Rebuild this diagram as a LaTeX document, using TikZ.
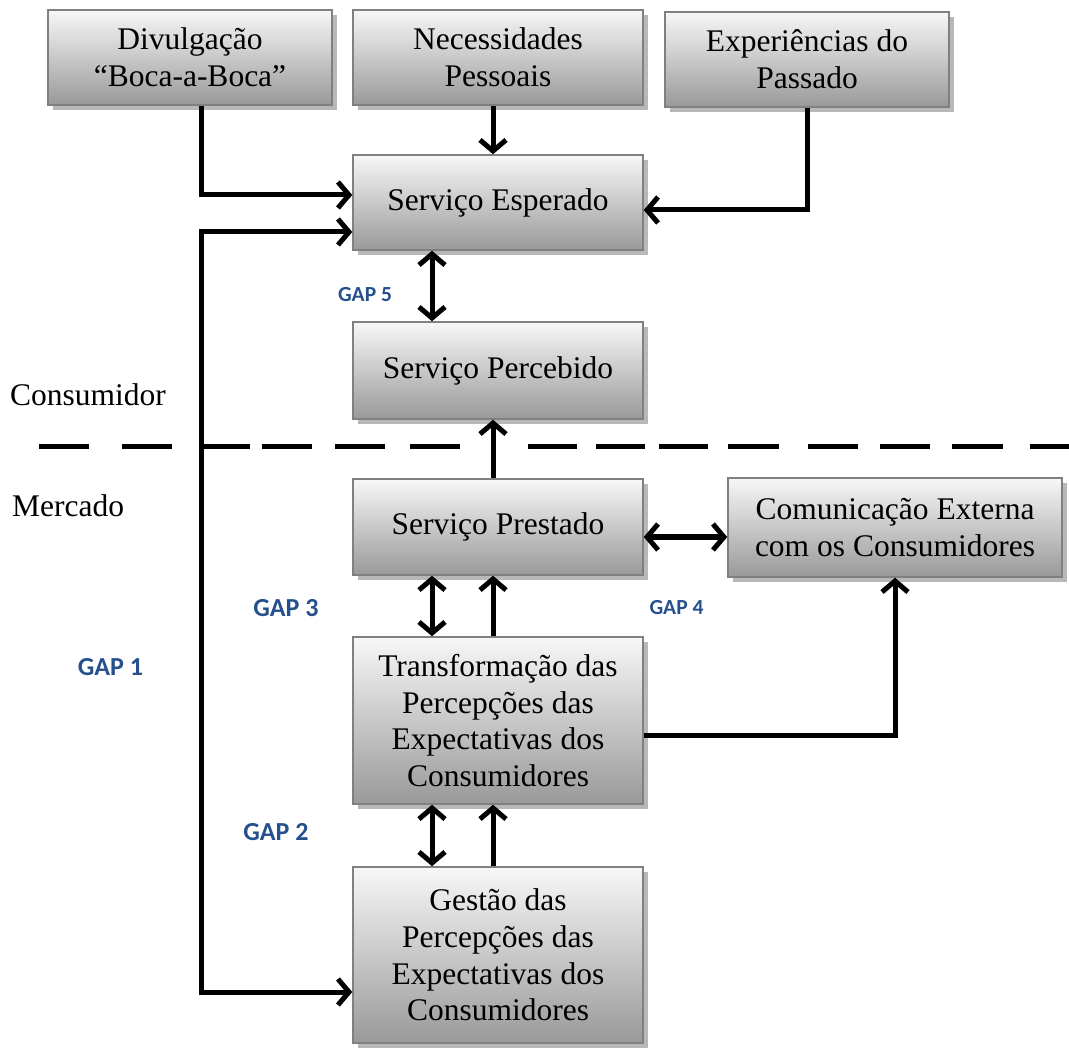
\documentclass[tikz,border=0pt]{standalone}
\usepackage{fontspec}
\setmainfont{Liberation Serif}
\newfontfamily\gapfont{Carlito}
\usetikzlibrary{arrows.meta,shadows}
\definecolor{gapblue}{RGB}{38,80,140}
\begin{document}
\begin{tikzpicture}[x=1pt,y=-1pt,
  box/.style 2 args={draw=black!50, line width=1.5pt,
    top color=white!97!black, bottom color=black!40,
    drop shadow={shadow xshift=5pt, shadow yshift=-5pt, fill=black!28, opacity=1},
    align=center, inner sep=0pt, font=\fontsize{31.5}{36.7}\selectfont,
    minimum width=#1pt, minimum height=#2pt},
  arr/.style={line width=5pt, -{Straight Barb[length=11pt,width=26pt]}},
  darr/.style={line width=5pt, {Straight Barb[length=11pt,width=26pt]}-{Straight Barb[length=11pt,width=26pt]}},
  dashseg/.style={line width=5pt},
  side/.style={font=\fontsize{31.5}{36.7}\selectfont, inner sep=0pt},
  gap/.style={font=\gapfont\bfseries\fontsize{#1}{#1}\selectfont, text=gapblue, inner sep=0pt}]
\useasboundingbox (0,0) rectangle (1069,1048);

% boxes
\node[box={284}{95}] (div) at (190,57.5) {Divulgação\\“Boca-a-Boca”};
\node[box={290}{95}] (nec) at (498,57.5) {Necessidades\\Pessoais};
\node[box={284}{95}] (exp) at (807,59.5) {Experiências do\\Passado};
\node[box={290}{95}] (esp) at (498,202.5) {Serviço Esperado};
\node[box={290}{97}] (per) at (498,370.5) {Serviço Percebido};
\node[box={290}{96}] (pre) at (498,527) {Serviço Prestado};
\node[box={334}{99}] (com) at (895,527.5) {Comunicação Externa\\com os Consumidores};
\node[box={290}{167}] (tra) at (498,720.5) {Transformação das\\Percepções das\\Expectativas dos\\Consumidores};
\node[box={290}{176}] (ges) at (498,955) {Gestão das\\Percepções das\\Expectativas dos\\Consumidores};

% routing columns and rows
\coordinate (xL) at (201,0);
\coordinate (xA) at (432,0);
\coordinate (xB) at (493,0);
\coordinate (xE) at (807,0);
\coordinate (xC) at (895,0);
\coordinate (yD1) at (0,195);
\coordinate (yD2) at (0,232);
\coordinate (yE) at (0,210);
\coordinate (yP) at (0,537);
\coordinate (yT) at (0,735);
\coordinate (yG) at (0,992);

% boundary between consumer and market
\foreach \a/\b in {39/89,122/172,202/250,262/312,335/385,410/460,528/577,596/645,659/708,728/779,808/858,880/930,952/1003,1030/1069}
  \draw[dashseg] (\a,447) -- (\b,447);

% connectors
\draw[arr] (div.south -| xL) |- (esp.west |- yD1);
\draw[arr] (nec.south -| xB) -- (esp.north -| xB);
\draw[arr] (exp.south -| xE) |- (esp.east |- yE);
\draw[darr] (esp.west |- yD2) -| (xL |- yG) -- (ges.west |- yG);
\draw[darr] (esp.south -| xA) -- (per.north -| xA);
\draw[arr] (pre.north -| xB) -- (per.south -| xB);
\draw[darr] (pre.east |- yP) -- (com.west |- yP);
\draw[darr] (pre.south -| xA) -- (tra.north -| xA);
\draw[arr] (tra.north -| xB) -- (pre.south -| xB);
\draw[arr] (tra.east |- yT) -| (com.south -| xC);
\draw[darr] (tra.south -| xA) -- (ges.north -| xA);
\draw[arr] (ges.north -| xB) -- (tra.south -| xB);

% side labels
\node[side, anchor=base west] (cons) at (10,406) {Consumidor};
\node[side, anchor=base west] (merc) at (12,517) {Mercado};

% gap labels
\node[gap=21.5] (g5) at (365,295) {GAP 5};
\node[gap=26] (g3) at (286,608) {GAP 3};
\node[gap=21.5] (g4) at (676.5,608) {GAP 4};
\node[gap=26] (g1) at (110.5,667) {GAP 1};
\node[gap=26] (g2) at (276,832) {GAP 2};
\end{tikzpicture}
\end{document}
